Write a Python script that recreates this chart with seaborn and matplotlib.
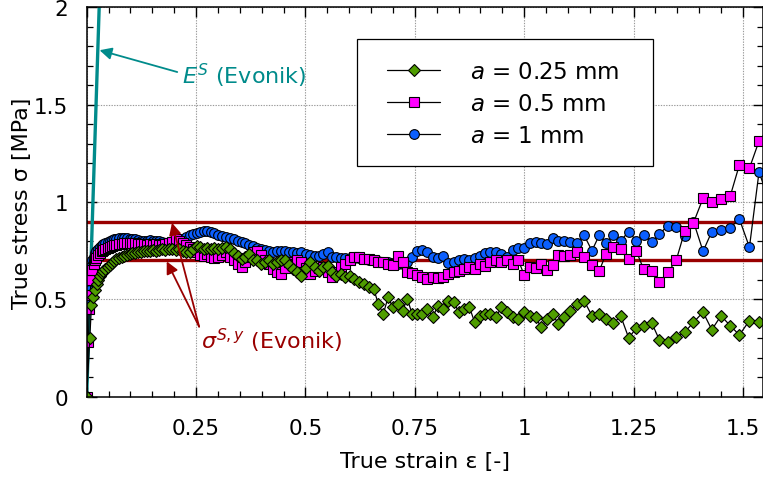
import matplotlib
matplotlib.use("Agg")
import matplotlib.pyplot as plt
from matplotlib.ticker import MultipleLocator, FuncFormatter
from matplotlib.lines import Line2D
from matplotlib.patches import Rectangle
import pandas as pd
import seaborn as sns

# ---------------- data ----------------
# initial loading ramp of each specimen (own sampling)
head_strain_025 = [0, 0.007, 0.011, 0.014, 0.019, 0.023, 0.026, 0.030]
head_stress_025 = [0, 0.30, 0.47, 0.51, 0.55, 0.58, 0.60, 0.62]

head_strain_05 = [0, 0.004, 0.006, 0.008, 0.010, 0.013, 0.016, 0.019, 0.022, 0.026, 0.030]
head_stress_05 = [0, 0.28, 0.45, 0.52, 0.60, 0.65, 0.68, 0.70, 0.715, 0.73, 0.74]

head_strain_1 = [0, 0.003, 0.005, 0.007, 0.009, 0.011, 0.013, 0.016, 0.019, 0.022, 0.026, 0.030]
head_stress_1 = [0, 0.48, 0.55, 0.60, 0.64, 0.67, 0.70, 0.72, 0.74, 0.75, 0.76, 0.77]

# common strain sampling after the ramp
strain = [
    0.034, 0.038, 0.043, 0.048, 0.053, 0.058, 0.063, 0.068, 0.074, 0.080, 0.086, 0.092, 0.098,
    0.104, 0.110, 0.117, 0.124, 0.131, 0.138, 0.145, 0.152, 0.159, 0.166, 0.173, 0.180, 0.188,
    0.196, 0.204, 0.212, 0.220, 0.228, 0.236, 0.244, 0.252, 0.260, 0.268, 0.276, 0.284, 0.292, 0.300,
    0.309, 0.318, 0.327, 0.336, 0.345, 0.354, 0.363, 0.372, 0.381, 0.390, 0.399, 0.408, 0.417,
    0.426, 0.435, 0.444, 0.453, 0.462, 0.471, 0.481, 0.491,
    0.501, 0.511, 0.521, 0.531, 0.541, 0.551, 0.561, 0.571, 0.581, 0.591, 0.601, 0.612, 0.623,
    0.634, 0.645, 0.656, 0.667, 0.678, 0.689, 0.700, 0.711, 0.722, 0.733, 0.744, 0.755,
    0.767, 0.779, 0.791, 0.803, 0.815, 0.827, 0.839, 0.851, 0.863, 0.875, 0.887, 0.899, 0.911,
    0.923, 0.935, 0.948, 0.961, 0.974, 0.987, 1.000, 1.013, 1.026, 1.039, 1.052, 1.065, 1.078,
    1.091, 1.104, 1.120, 1.137,
    1.155, 1.172, 1.187, 1.204, 1.221, 1.239, 1.256, 1.273, 1.292, 1.309, 1.329, 1.348, 1.367,
    1.387, 1.409, 1.429, 1.450, 1.471, 1.492, 1.515, 1.537, 1.560,
]

stress_025 = [
    0.635, 0.645, 0.656, 0.665, 0.675, 0.685, 0.695, 0.705, 0.715, 0.72, 0.725, 0.73, 0.735,
    0.74, 0.74, 0.745, 0.745, 0.75, 0.75, 0.75, 0.755, 0.75, 0.755, 0.76, 0.755, 0.76,
    0.76, 0.755, 0.76, 0.75, 0.742, 0.745, 0.76, 0.776, 0.77, 0.76, 0.765, 0.76, 0.762, 0.759,
    0.765, 0.768, 0.76, 0.74, 0.725, 0.708, 0.72, 0.733, 0.70, 0.70, 0.682, 0.69, 0.70,
    0.682, 0.69, 0.70, 0.70, 0.675, 0.656, 0.64, 0.622,
    0.66, 0.69, 0.665, 0.648, 0.665, 0.673, 0.64, 0.622, 0.63, 0.614, 0.622, 0.605, 0.59,
    0.579, 0.562, 0.553, 0.476, 0.425, 0.511, 0.459, 0.476, 0.442, 0.502, 0.425, 0.425,
    0.425, 0.45, 0.408, 0.468, 0.45, 0.493, 0.485, 0.434, 0.45, 0.459, 0.382, 0.416, 0.425,
    0.425, 0.408, 0.459, 0.434, 0.408, 0.399, 0.434, 0.416, 0.408, 0.357, 0.399, 0.425, 0.374,
    0.408, 0.44, 0.476, 0.493,
    0.416, 0.425, 0.399, 0.379, 0.413, 0.302, 0.351, 0.365, 0.377, 0.293, 0.280, 0.305, 0.331,
    0.382, 0.434, 0.344, 0.416, 0.365, 0.317, 0.391, 0.382, 0.40,
]

stress_05 = [
    0.75, 0.755, 0.76, 0.765, 0.77, 0.775, 0.78, 0.78, 0.785, 0.785, 0.79, 0.79, 0.79,
    0.79, 0.79, 0.785, 0.785, 0.785, 0.78, 0.785, 0.78, 0.785, 0.78, 0.78, 0.785, 0.79,
    0.795, 0.81, 0.80, 0.79, 0.78, 0.77, 0.76, 0.745, 0.73, 0.725, 0.735, 0.72, 0.71, 0.716,
    0.73, 0.745, 0.72, 0.70, 0.68, 0.665, 0.69, 0.72, 0.742, 0.75, 0.73, 0.70, 0.68,
    0.656, 0.64, 0.63, 0.66, 0.69, 0.68, 0.70, 0.69,
    0.66, 0.63, 0.645, 0.66, 0.665, 0.64, 0.614, 0.64, 0.665, 0.682, 0.70, 0.716, 0.716,
    0.708, 0.708, 0.70, 0.69, 0.69, 0.682, 0.676, 0.725, 0.69, 0.64, 0.635, 0.625,
    0.614, 0.605, 0.614, 0.61, 0.614, 0.63, 0.64, 0.648, 0.656, 0.665, 0.656, 0.682, 0.673,
    0.694, 0.70, 0.69, 0.702, 0.682, 0.70, 0.625, 0.665, 0.66, 0.682, 0.653, 0.678, 0.728,
    0.721, 0.728, 0.742, 0.716,
    0.677, 0.648, 0.733, 0.768, 0.759, 0.708, 0.750, 0.656, 0.644, 0.588, 0.639, 0.704, 0.850,
    0.893, 1.020, 1.002, 1.016, 1.030, 1.191, 1.174, 1.314, 1.38,
]

stress_1 = [
    0.78, 0.785, 0.79, 0.795, 0.80, 0.805, 0.81, 0.81, 0.815, 0.815, 0.815, 0.815, 0.81,
    0.81, 0.81, 0.805, 0.80, 0.80, 0.80, 0.805, 0.80, 0.80, 0.80, 0.795, 0.79, 0.79,
    0.79, 0.795, 0.80, 0.81, 0.82, 0.83, 0.835, 0.84, 0.845, 0.85, 0.85, 0.845, 0.84, 0.83,
    0.825, 0.82, 0.815, 0.81, 0.80, 0.795, 0.79, 0.78, 0.775, 0.765, 0.76, 0.755, 0.75,
    0.745, 0.75, 0.75, 0.75, 0.745, 0.745, 0.74, 0.745,
    0.735, 0.73, 0.725, 0.725, 0.735, 0.745, 0.72, 0.72, 0.715, 0.715, 0.715, 0.715, 0.71,
    0.705, 0.70, 0.70, 0.695, 0.69, 0.69, 0.685, 0.68, 0.68, 0.69, 0.72, 0.75,
    0.755, 0.745, 0.72, 0.71, 0.725, 0.685, 0.69, 0.70, 0.705, 0.70, 0.715, 0.725, 0.738,
    0.742, 0.742, 0.735, 0.72, 0.755, 0.765, 0.765, 0.79, 0.795, 0.79, 0.785, 0.815, 0.80,
    0.80, 0.795, 0.79, 0.83,
    0.75, 0.831, 0.79, 0.833, 0.802, 0.848, 0.802, 0.833, 0.797, 0.836, 0.879, 0.874, 0.827,
    0.90, 0.747, 0.848, 0.858, 0.868, 0.913, 0.768, 1.156, 1.00,
]

labels = ["$a$ = 0.25 mm", "$a$ = 0.5 mm", "$a$ = 1 mm"]

E_S = 70.0                 # Young's modulus (Evonik) [MPa]
yield_levels = [0.7, 0.9]  # yield stress band (Evonik) [MPa]

# ---------------- styling ----------------
GREEN = "#4f9d00"
MAGENTA = "#ff00ff"
BLUE = "#0b5fff"
DARKRED = "#990000"
TEAL = "#008b8b"

sns.set_style("ticks")
plt.rcParams["font.family"] = ["DejaVu Sans"]
plt.rcParams["mathtext.fontset"] = "dejavusans"
plt.rcParams["axes.linewidth"] = 1.1
for key in ["text.color", "axes.labelcolor", "xtick.color", "ytick.color", "axes.edgecolor"]:
    plt.rcParams[key] = "black"

fig = plt.figure(figsize=(7.63, 4.85), dpi=100)
ax = fig.add_axes([0.1136, 0.18, 0.8864, 0.8027])

# reference lines
for level in yield_levels:
    ax.axhline(level, color=DARKRED, lw=2.4, zorder=1.6)
e_line = pd.DataFrame({"strain": [0.0, 2.2 / E_S], "stress": [0.0, 2.2]})
sns.lineplot(data=e_line, x="strain", y="stress", color=TEAL, lw=2.4, ax=ax,
             sort=False, estimator=None, zorder=1.7)

series = [
    (head_strain_1 + strain, head_stress_1 + stress_1, "o", BLUE, 7.0, 2.0),
    (head_strain_05 + strain, head_stress_05 + stress_05, "s", MAGENTA, 6.6, 2.1),
    (head_strain_025 + strain, head_stress_025 + stress_025, "D", GREEN, 6.0, 2.2),
]
for xs, ys, mk, col, ms, z in series:
    df = pd.DataFrame({"strain": xs, "stress": ys})
    sns.lineplot(data=df, x="strain", y="stress", ax=ax, sort=False, estimator=None,
                 color="black", lw=0.9, marker=mk, markersize=ms,
                 markerfacecolor=col, markeredgecolor="black", markeredgewidth=0.8,
                 zorder=z)

# annotations
ax.annotate("", xy=(1.78 / E_S + 0.004, 1.78), xytext=(0.207, 1.668),
            arrowprops=dict(arrowstyle="-|>", color=TEAL, lw=1.3, mutation_scale=18,
                            shrinkA=0, shrinkB=0), zorder=3)
ax.text(0.218, 1.655, "$E^S$ (Evonik)", color=TEAL, fontsize=16, va="center", ha="left")

for tip in [(0.183, 0.695), (0.195, 0.893)]:
    ax.annotate("", xy=tip, xytext=(0.257, 0.36),
                arrowprops=dict(arrowstyle="-|>", color=DARKRED, lw=1.3, mutation_scale=18,
                                shrinkA=0, shrinkB=0), zorder=3)
ax.text(0.262, 0.29, r"$\sigma^{S,y}$ (Evonik)", color=DARKRED, fontsize=16,
        va="center", ha="left")

# axes
ax.set_xlim(0, 1.546)
ax.set_ylim(0, 2)
ax.xaxis.set_major_locator(MultipleLocator(0.25))
ax.xaxis.set_minor_locator(MultipleLocator(0.05))
ax.yaxis.set_major_locator(MultipleLocator(0.5))
ax.yaxis.set_minor_locator(MultipleLocator(0.1))
fmt = FuncFormatter(lambda v, p: f"{v:g}")
ax.xaxis.set_major_formatter(fmt)
ax.yaxis.set_major_formatter(fmt)
ax.tick_params(which="both", direction="in", top=True, right=True, labelsize=15.5,
               color="black", labelcolor="black")
ax.tick_params(which="major", length=7, width=1.0)
ax.tick_params(axis="x", which="major", pad=15.5)
ax.tick_params(axis="y", which="major", pad=13.5)
ax.tick_params(which="minor", length=4, width=0.9)
ax.grid(True, which="major", color="#9a9a9a", lw=0.8, ls=(0, (1.2, 1.2)))
ax.set_axisbelow(True)
for s in ax.spines.values():
    s.set_visible(True)
    s.set_color("black")

ax.set_xlabel("True strain ε [-]", fontsize=16, labelpad=9)
ax.set_ylabel("True stress σ [MPa]", fontsize=16, labelpad=1.5)

# legend: frame box first, entries placed inside it
ax.add_patch(Rectangle((0.399, 0.593), 0.438, 0.326, transform=ax.transAxes,
                       facecolor="white", edgecolor="black", lw=0.9, zorder=4))
handles = []
for (xs, ys, mk, col, ms, z), lab in zip(series[::-1], labels):
    handles.append(Line2D([], [], color="black", lw=0.9, marker=mk, markersize=ms,
                          markerfacecolor=col, markeredgecolor="black",
                          markeredgewidth=0.8, label=lab))
leg = ax.legend(handles=handles, loc="upper left", bbox_to_anchor=(0.4447, 0.866),
                fontsize=16.5, frameon=False, borderpad=0, handlelength=2.3,
                handletextpad=1.3, labelspacing=0.40, borderaxespad=0)
leg.set_zorder(5)

fig.savefig("out.png", dpi=100)
